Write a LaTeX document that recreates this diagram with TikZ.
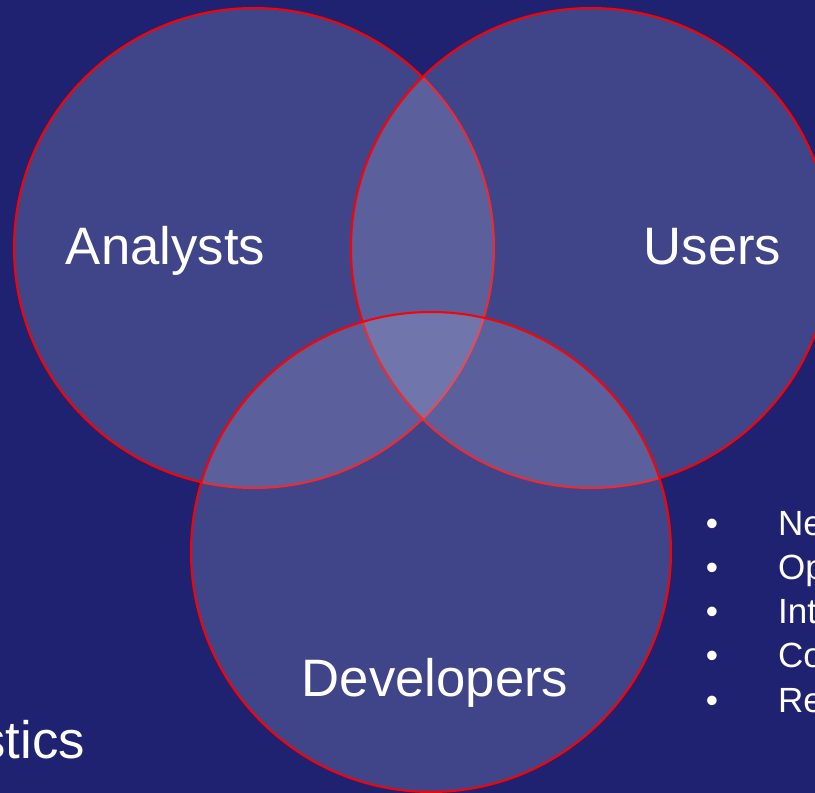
\documentclass[tikz,border=0pt]{standalone}
\usepackage{fontspec}
\setmainfont{Liberation Sans}
\definecolor{bgnavy}{RGB}{31,34,112}
\definecolor{venfill}{RGB}{200,205,235}
\definecolor{venline}{RGB}{255,0,0}
\begin{document}
\begin{tikzpicture}[x=1pt,y=-1pt,
  venn/.style={draw=venline,line width=2pt,fill=venfill,fill opacity=0.2},
  biglabel/.style={text=white,font=\fontsize{52.7}{60}\selectfont,inner sep=0pt,anchor=base},
  bul/.style={text=white,font=\fontsize{35}{40}\selectfont,inner sep=0pt,anchor=base},
  itemtext/.style={text=white,font=\fontsize{35}{40}\selectfont,inner sep=0pt,anchor=base west}]
\fill[bgnavy] (0,0) rectangle (815,793);
\useasboundingbox (0,0) rectangle (815,793);
\draw[venn] (254,248) circle (240);
\draw[venn] (591,248) circle (240);
\draw[venn] (431,552) circle (240);
\node[biglabel] (analysts) at (165.5,264) {Analysts};
\node[biglabel] (users) at (712.5,264) {Users};
\node[biglabel] (developers) at (435,696) {Developers};
\node[biglabel,anchor=base east] (stics) at (85,758) {stics};
\foreach \i/\t in {0/Ne,1/Op,2/Int,3/Co,4/Re}{
  \node[bul] (b\i) at (712,535+44.3*\i) {•};
  \node[itemtext] (t\i) at (778,535+44.3*\i) {\t};
}
\end{tikzpicture}
\end{document}
